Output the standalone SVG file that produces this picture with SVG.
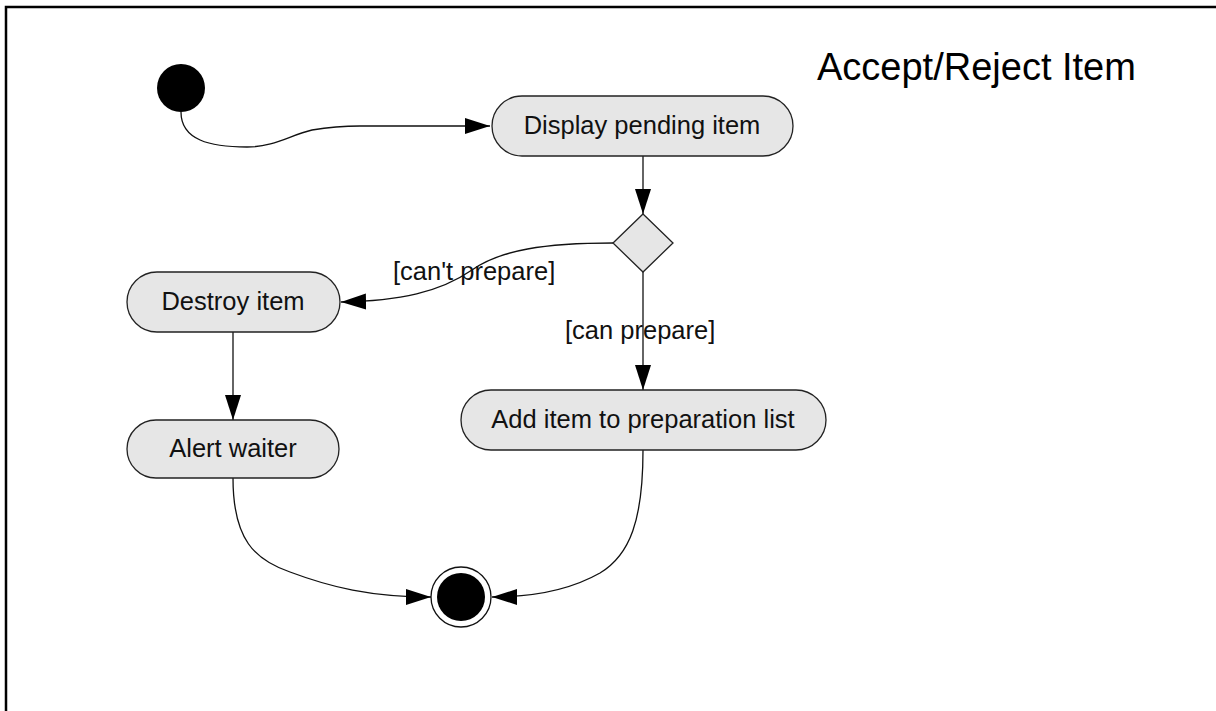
<svg xmlns="http://www.w3.org/2000/svg" width="1216" height="711" viewBox="0 0 1216 711">
  <style>
    .frame { stroke: #000; stroke-width: 2.5; fill: none; }
    .action { fill: #e6e6e6; stroke: #222; stroke-width: 1.3; }
    .label { font-family: "Liberation Sans", Arial, sans-serif; font-size: 25.5px; fill: #111; }
    .node-text { text-anchor: middle; }
    .title { font-family: "Liberation Sans", Arial, sans-serif; font-size: 38px; fill: #000; }
    .flow { fill: none; stroke: #111; stroke-width: 1.3; marker-end: url(#arrow); }
  </style>
  <defs>
    <marker id="arrow" markerUnits="userSpaceOnUse" markerWidth="26" markerHeight="18" refX="25" refY="8" orient="auto">
      <path d="M0,0 L25,8 L0,16 z" fill="#000"/>
    </marker>
  </defs>

  <rect width="1216" height="711" fill="#fff"/>
  <!-- page frame: top and left edges -->
  <path class="frame" d="M6,711 L6,7 L1216,7"/>

  <text class="title" x="817" y="80">Accept/Reject Item</text>

  <!-- connectors -->
  <g id="connectors">
    <path class="flow" d="M181,112 C181,140 210,147 247,147 C275,147 290,135 312,130 C330,127 345,126 360,126 L490,126"/>
    <path class="flow" d="M643,156 L643,214"/>
    <path class="flow" d="M613,243 C545,243 500,250 472,270 C440,292 400,301 341,302"/>
    <path class="flow" d="M643,272 L643,390"/>
    <path class="flow" d="M233,332 L233,420"/>
    <path class="flow" d="M233,478 C233,540 255,560 290,572 C330,587 370,597 431,597"/>
    <path class="flow" d="M643,450 C643,520 630,555 600,573 C570,590 530,597 492,597"/>
    <text class="label" x="393" y="280">[can't prepare]</text>
    <text class="label" x="565" y="339">[can prepare]</text>
  </g>

  <!-- nodes -->
  <g id="start">
    <circle cx="181" cy="88" r="24" fill="#000"/>
  </g>

  <g id="display-pending-item">
    <rect class="action" x="492" y="96" width="301" height="60" rx="30" ry="30"/>
    <text class="label node-text" x="642" y="134">Display pending item</text>
  </g>

  <g id="decision">
    <path class="action" d="M643,214 L673,243 L643,272 L613,243 z"/>
  </g>

  <g id="destroy-item">
    <rect class="action" x="127" y="272" width="213" height="60" rx="30" ry="30"/>
    <text class="label node-text" x="233" y="310">Destroy item</text>
  </g>

  <g id="alert-waiter">
    <rect class="action" x="127" y="420" width="212" height="58" rx="29" ry="29"/>
    <text class="label node-text" x="233" y="457">Alert waiter</text>
  </g>

  <g id="add-to-preparation-list">
    <rect class="action" x="461" y="390" width="365" height="60" rx="30" ry="30"/>
    <text class="label node-text" x="643" y="428">Add item to preparation list</text>
  </g>

  <g id="end">
    <circle cx="461" cy="597" r="30" fill="#fff" stroke="#111" stroke-width="1.3"/>
    <circle cx="461" cy="597" r="24" fill="#000"/>
  </g>
</svg>
